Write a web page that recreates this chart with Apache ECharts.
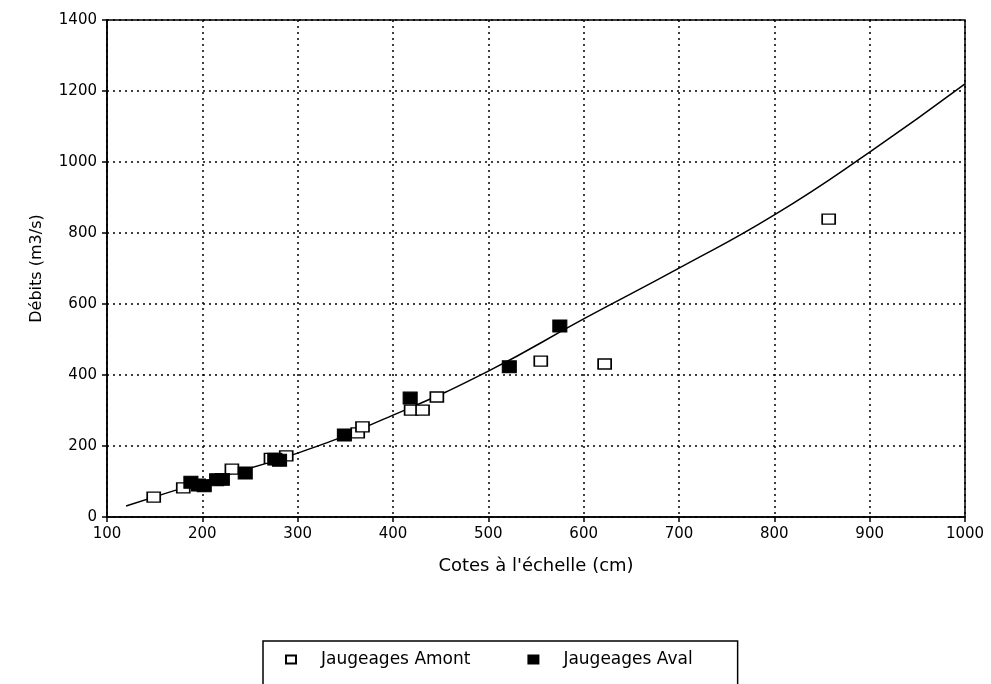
<!DOCTYPE html>
<html>
<head>
<meta charset="utf-8">
<script src="https://cdn.jsdelivr.net/npm/echarts@6/dist/echarts.min.js"></script>
<style>
  html, body { margin: 0; padding: 0; background: #fff; }
  #chart { width: 991px; height: 684px; }
</style>
</head>
<body>
<div id="chart"></div>
<script>
// courbe de tarage
const courbe = [[120, 31], [200, 99], [300, 180], [400, 287], [500, 411], [600, 558],
  [700, 701], [800, 851], [900, 1028], [1000, 1220]];

// jaugeages amont (carrés vides)
const amont = [[149, 56], [180, 82], [231, 135], [272, 165], [288, 172], [363, 237],
  [368, 254], [419, 301], [431, 301], [446, 338], [555, 439], [622, 431], [857, 839]];

// jaugeages aval (carrés pleins)
const aval = [[188, 98], [196, 90], [202, 88], [215, 105], [221, 106], [245, 124],
  [276, 163], [281, 160], [349, 231], [418, 335], [522, 423], [575, 538]];

const font = 'DejaVu Sans, Liberation Sans, sans-serif';
const plain = function (v) { return String(v); };

var chart = echarts.init(document.getElementById('chart'));
var option = {
  backgroundColor: '#fff',
  animation: false,
  grid: {
    left: 107, right: 26, top: 20, bottom: 167,
    show: true, borderColor: '#000', borderWidth: 1.5
  },
  legend: {
    data: ['Jaugeages Amont', 'Jaugeages Aval'],
    left: 263, top: 641,
    orient: 'horizontal',
    padding: [10, 45, 40, 22],
    borderColor: '#000', borderWidth: 1.5,
    itemWidth: 10, itemHeight: 8, itemGap: 57,
    textStyle: { fontFamily: font, fontSize: 17, color: '#000', padding: [0, 0, 0, 20] }
  },
  xAxis: {
    type: 'value', min: 100, max: 1000, interval: 100,
    name: "Cotes à l'échelle (cm)", nameLocation: 'middle', nameGap: 40,
    nameTextStyle: { fontFamily: font, fontSize: 18, color: '#000' },
    axisLine: { lineStyle: { color: '#000', width: 1.5 } },
    axisTick: { show: true, length: 5, lineStyle: { color: '#000', width: 1.5 } },
    axisLabel: { fontFamily: font, fontSize: 15, color: '#000', margin: 10, formatter: plain },
    splitLine: { lineStyle: { color: '#000', type: [2, 4], width: 1.5 } }
  },
  yAxis: {
    type: 'value', min: 0, max: 1400, interval: 200,
    name: 'Débits (m3/s)', nameLocation: 'middle', nameGap: 62,
    nameTextStyle: { fontFamily: font, fontSize: 16, color: '#000' },
    axisLine: { show: true, lineStyle: { color: '#000', width: 1.5 } },
    axisTick: { show: true, length: 5, lineStyle: { color: '#000', width: 1.5 } },
    axisLabel: { fontFamily: font, fontSize: 15, color: '#000', margin: 10, formatter: plain },
    splitLine: { lineStyle: { color: '#000', type: [2, 4], width: 1.5 } }
  },
  series: [
    {
      name: 'courbe', type: 'line', data: courbe, smooth: true,
      showSymbol: false, z: 2,
      lineStyle: { color: '#000', width: 1.5 }
    },
    {
      name: 'Jaugeages Amont', type: 'scatter', data: amont,
      symbol: 'rect', symbolSize: [13, 10], z: 3,
      itemStyle: { color: '#fff', borderColor: '#000', borderWidth: 1.5, opacity: 1 }
    },
    {
      name: 'Jaugeages Aval', type: 'scatter', data: aval,
      symbol: 'rect', symbolSize: [14, 12], z: 4,
      itemStyle: { color: '#000', borderColor: '#000', borderWidth: 1, opacity: 1 }
    }
  ]
};
chart.setOption(option);
</script>
</body>
</html>
